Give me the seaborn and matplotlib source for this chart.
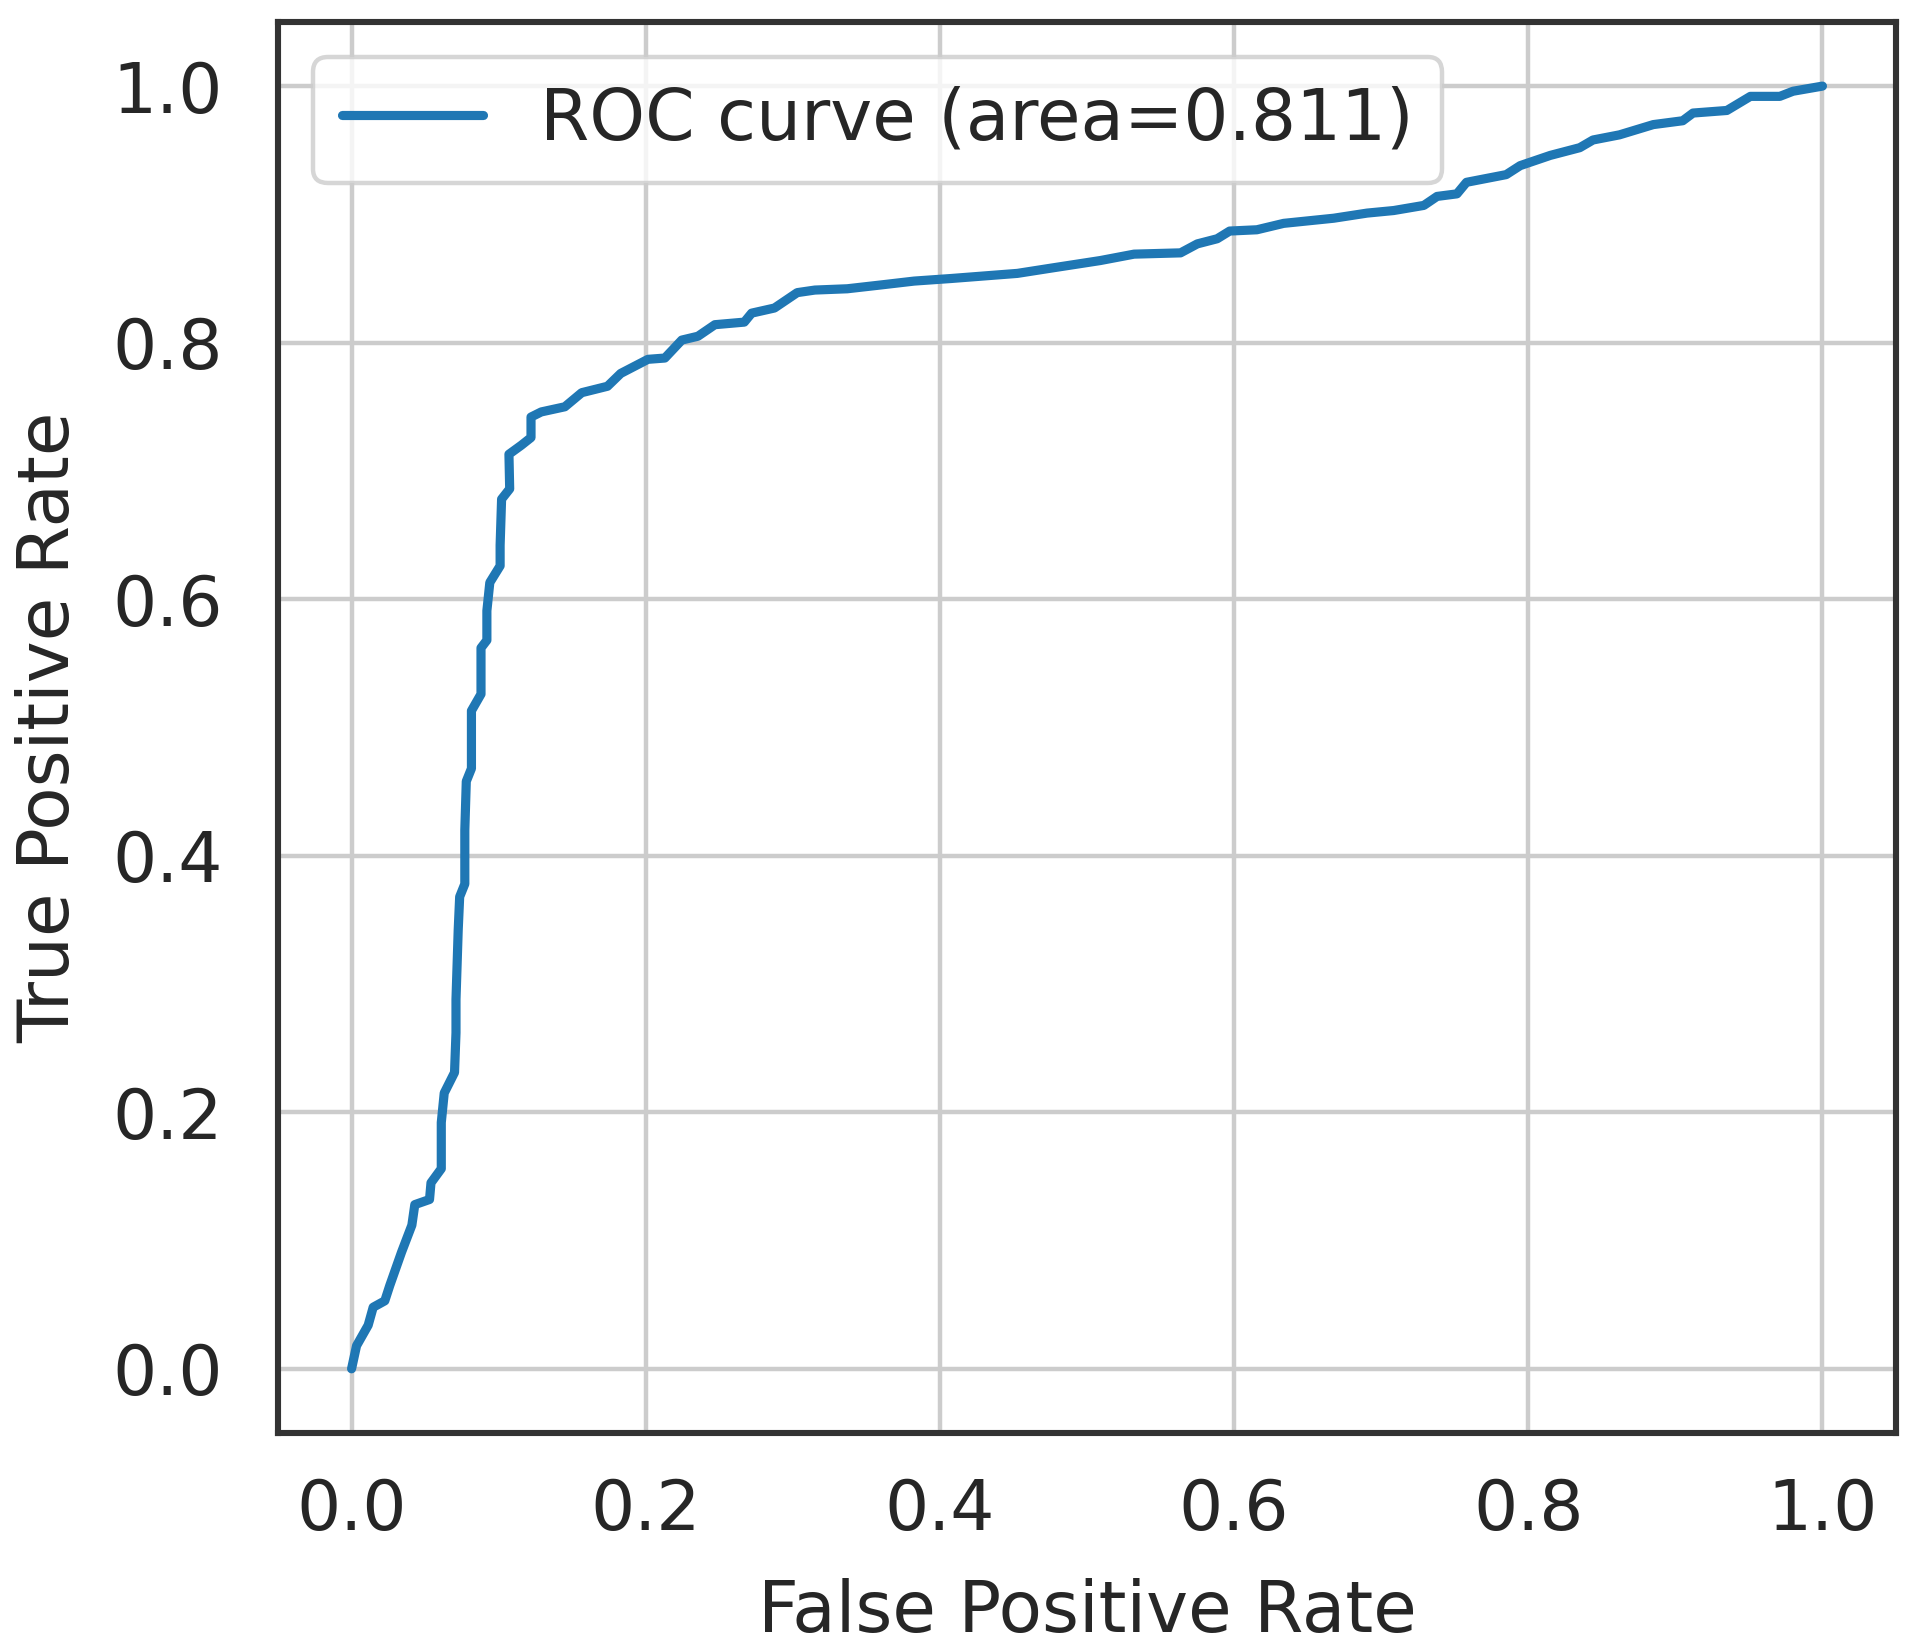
import numpy as np
import pandas as pd
import matplotlib
matplotlib.use("Agg")
import matplotlib.pyplot as plt
import seaborn as sns

# --- ROC curve points ---
fpr = [0.0, 0.0034, 0.0113, 0.0147, 0.0226, 0.026, 0.034, 0.041, 0.043, 0.053,
       0.054, 0.061, 0.061, 0.063, 0.070, 0.071, 0.071, 0.0725, 0.0735, 0.077,
       0.077, 0.078, 0.0815, 0.0815, 0.088, 0.088, 0.092, 0.092, 0.094, 0.101,
       0.101, 0.102, 0.1075, 0.107, 0.1154, 0.122, 0.122, 0.129, 0.145, 0.1565,
       0.174, 0.183, 0.2015, 0.213, 0.2245, 0.2355, 0.247, 0.267, 0.272, 0.2875,
       0.303, 0.315, 0.337, 0.360, 0.3825, 0.4075, 0.4527, 0.475, 0.509, 0.532,
       0.5636, 0.575, 0.5885, 0.597, 0.6155, 0.6337, 0.6677, 0.6904, 0.7085, 0.729,
       0.738, 0.7515, 0.758, 0.785, 0.7945, 0.815, 0.835, 0.844, 0.862, 0.885,
       0.905, 0.912, 0.935, 0.951, 0.971, 0.980, 1.0]
tpr = [0.0, 0.018, 0.034, 0.048, 0.053, 0.065, 0.091, 0.112, 0.128, 0.132,
       0.145, 0.156, 0.192, 0.215, 0.231, 0.262, 0.288, 0.342, 0.368, 0.378,
       0.420, 0.458, 0.468, 0.513, 0.526, 0.562, 0.568, 0.591, 0.613, 0.626,
       0.642, 0.678, 0.686, 0.713, 0.720, 0.726, 0.742, 0.746, 0.750, 0.761,
       0.766, 0.776, 0.787, 0.788, 0.802, 0.805, 0.814, 0.816, 0.823, 0.827,
       0.839, 0.841, 0.842, 0.845, 0.848, 0.850, 0.854, 0.858, 0.864, 0.869,
       0.870, 0.877, 0.881, 0.887, 0.888, 0.893, 0.897, 0.901, 0.903, 0.907,
       0.914, 0.916, 0.925, 0.931, 0.938, 0.946, 0.952, 0.958, 0.962, 0.970,
       0.973, 0.979, 0.981, 0.992, 0.992, 0.996, 1.0]
roc_auc = 0.811
ticks = [0.0, 0.2, 0.4, 0.6, 0.8, 1.0]

df = pd.DataFrame({"fpr": fpr, "tpr": tpr})

sns.set_style("white")
plt.rcParams["font.family"] = ["DejaVu Sans"]
plt.rcParams["text.color"] = ".15"

fig, ax = plt.subplots(figsize=(9.6, 8.26), dpi=200)
fig.subplots_adjust(left=0.1448, right=0.9875, bottom=0.1326, top=0.9867)

sns.lineplot(data=df, x="fpr", y="tpr", sort=False, estimator=None,
             color="#1f77b4", linewidth=3.3, solid_capstyle="round",
             label="ROC curve (area=%0.3f)" % roc_auc, ax=ax)

ax.set_xticks(ticks)
ax.set_yticks(ticks)
ax.grid(True, color=".8", linewidth=1.6)
ax.set_axisbelow(True)
for s in ax.spines.values():
    s.set_color(".2")
    s.set_linewidth(2.2)

ax.tick_params(axis="both", length=0, labelsize=25, colors=".15")
ax.tick_params(axis="x", pad=16)
ax.tick_params(axis="y", pad=20)
ax.set_xlabel("False Positive Rate", fontsize=25.5, color=".15", labelpad=12)
ax.set_ylabel("True Positive Rate", fontsize=25.5, color=".15", labelpad=10)

leg = ax.legend(loc="upper left", fontsize=25.5, frameon=True, fancybox=True,
                framealpha=0.8, edgecolor=".8", handlelength=2.0)
leg.get_frame().set_linewidth(1.6)
for t in leg.get_texts():
    t.set_color(".15")

plt.savefig("out.png", dpi=200)
plt.close()
